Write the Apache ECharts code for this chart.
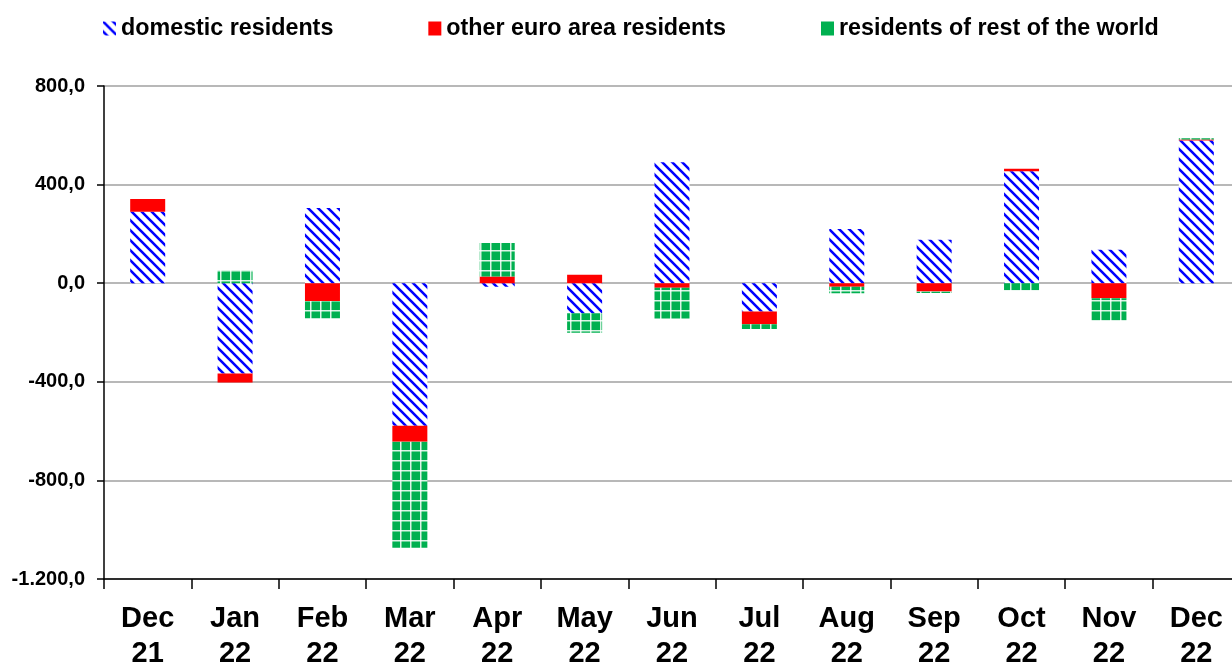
<!DOCTYPE html>
<html>
<head>
<meta charset="utf-8">
<script src="https://cdn.jsdelivr.net/npm/echarts@6/dist/echarts.min.js"></script>
<style>
  html, body { margin: 0; padding: 0; background: #fff; }
  #chart { width: 1232px; height: 666px; }
</style>
</head>
<body>
<div id="chart"></div>
<script>
var months = ['Dec\n21', 'Jan\n22', 'Feb\n22', 'Mar\n22', 'Apr\n22', 'May\n22', 'Jun\n22',
  'Jul\n22', 'Aug\n22', 'Sep\n22', 'Oct\n22', 'Nov\n22', 'Dec\n22'];
var domestic = [290, -366, 305, -578, -14, -122, 491, -115, 220, 176, 454, 136, 579];
var otherEuro = [52, -37, -72, -65, 27, 34, -18, -52, -14, -34, 10, -61, 4];
var restWorld = [0, 54, -70, -430, 136, -79, -125, -19, -27, -6, -30, -92, 5];
var yTicks = [-1200, -800, -400, 0, 400, 800];

// hatch pattern: blue "\" stripes on white
function stripePattern() {
  var c = document.createElement('canvas');
  c.width = 10; c.height = 10;
  var ctx = c.getContext('2d');
  ctx.fillStyle = '#fff';
  ctx.fillRect(0, 0, 10, 10);
  ctx.strokeStyle = '#0000ff';
  ctx.lineWidth = 2.6;
  ctx.beginPath();
  ctx.moveTo(-2, -2); ctx.lineTo(12, 12);
  ctx.moveTo(-2, 8); ctx.lineTo(2, 12);
  ctx.moveTo(8, -2); ctx.lineTo(12, 2);
  ctx.stroke();
  return c;
}

// green squares with white grid lines
function gridPattern() {
  var c = document.createElement('canvas');
  c.width = 10; c.height = 10;
  var ctx = c.getContext('2d');
  ctx.fillStyle = '#00b050';
  ctx.fillRect(0, 0, 10, 10);
  ctx.fillStyle = 'rgba(255,255,255,0.85)';
  ctx.fillRect(0, 0, 10, 1.5);
  ctx.fillRect(0, 0, 1.5, 10);
  return c;
}

// 1200 -> "1.200,0"
function fmt(v) {
  var neg = v < 0;
  var s = Math.abs(v).toFixed(1).split('.');
  var int = s[0].replace(/\B(?=(\d{3})+(?!\d))/g, '.');
  return (neg ? '-' : '') + int + ',' + s[1];
}

var chart = echarts.init(document.getElementById('chart'), null, { renderer: 'canvas' });

var stripes = { image: stripePattern(), repeat: 'repeat' };
var squares = { image: gridPattern(), repeat: 'repeat' };

var option = {
  animation: false,
  textStyle: { fontFamily: 'Liberation Sans, Arial, sans-serif' },
  legend: {
    left: 103,
    top: 17,
    padding: 0,
    itemWidth: 13,
    itemHeight: 14,
    itemGap: 95,
    textStyle: { fontSize: 23.3, fontWeight: 'bold', color: '#000' },
    data: [
      { name: 'domestic residents', icon: 'rect' },
      { name: 'other euro area residents', icon: 'rect', itemStyle: { color: '#ff0000' } },
      { name: 'residents of rest of the world', icon: 'rect', itemStyle: { color: '#00b050' } }
    ]
  },
  grid: {
    left: 104,
    top: 86,
    width: 1136,
    bottom: 87,
    outerBoundsMode: 'none',
    containLabel: false
  },
  xAxis: {
    type: 'category',
    data: months,
    position: 'bottom',
    axisLine: { onZero: false, lineStyle: { color: '#000', width: 1.5 } },
    axisTick: { show: true, length: 10, alignWithLabel: false, lineStyle: { color: '#000', width: 1.5 } },
    axisLabel: {
      margin: 22,
      fontSize: 29,
      fontWeight: 'bold',
      color: '#000',
      lineHeight: 35,
      interval: 0,
      hideOverlap: false
    }
  },
  yAxis: {
    type: 'value',
    min: yTicks[0],
    max: yTicks[yTicks.length - 1],
    interval: 400,
    axisLine: { show: true, lineStyle: { color: '#000', width: 1.5 } },
    axisTick: { show: true, length: 7, lineStyle: { color: '#000', width: 1.5 } },
    axisLabel: {
      margin: 19,
      fontSize: 20,
      fontWeight: 'bold',
      color: '#000',
      formatter: fmt
    },
    splitLine: { show: true, lineStyle: { color: '#a0a0a0', width: 1.5 } }
  },
  series: [
    {
      name: 'domestic residents',
      type: 'bar',
      stack: 'total',
      barWidth: 35,
      data: domestic,
      itemStyle: { color: stripes }
    },
    {
      name: 'other euro area residents',
      type: 'bar',
      stack: 'total',
      barWidth: 35,
      data: otherEuro,
      itemStyle: { color: '#ff0000' }
    },
    {
      name: 'residents of rest of the world',
      type: 'bar',
      stack: 'total',
      barWidth: 35,
      data: restWorld,
      itemStyle: { color: squares }
    }
  ]
};
chart.setOption(option);
</script>
</body>
</html>
